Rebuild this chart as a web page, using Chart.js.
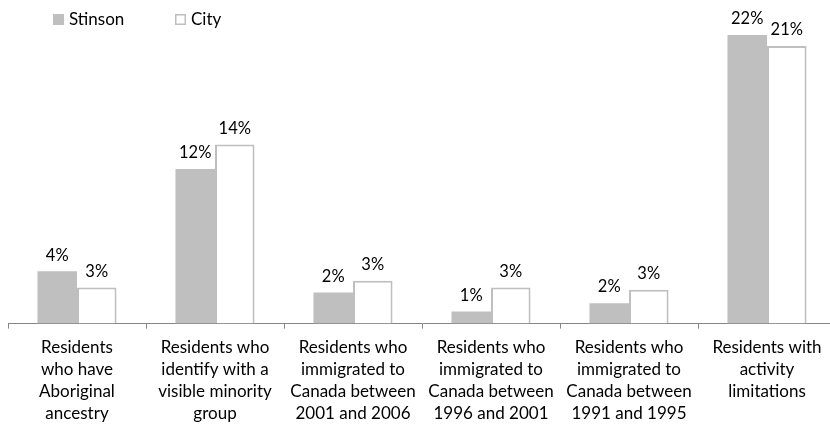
<!DOCTYPE html>
<html>
<head>
<meta charset="utf-8">
<script src="https://cdn.jsdelivr.net/npm/chart.js@4/dist/chart.umd.min.js"></script>
<style>
  html, body { margin: 0; padding: 0; background: #fff; overflow: hidden; }
  #wrap { position: relative; width: 836px; height: 428px; }
</style>
</head>
<body>
<div id="wrap"><canvas id="chart"></canvas></div>
<script>
// categories (multi-line, as in the source)
const categories = [
    ['Residents', 'who have', 'Aboriginal', 'ancestry'],
    ['Residents who', 'identify with a', 'visible minority', 'group'],
    ['Residents who', 'immigrated to', 'Canada between', '2001 and 2006'],
    ['Residents who', 'immigrated to', 'Canada between', '1996 and 2001'],
    ['Residents who', 'immigrated to', 'Canada between', '1991 and 1995'],
    ['Residents with', 'activity', 'limitations']
];
const seriesNames = ['Stinson', 'City'];
const stinson = [3.99, 11.78, 2.38, 0.92, 1.56, 22.0];
const city = [2.76, 13.65, 3.27, 2.76, 2.58, 21.16];

const FONT = 'Lato, "Noto Sans", sans-serif';
Chart.defaults.color = '#000';
Chart.defaults.font.family = FONT;

// value labels above each bar
const valueLabels = {
    id: 'valueLabels',
    afterDatasetsDraw(chart) {
        const ctx = chart.ctx;
        ctx.save();
        ctx.font = '16.5px ' + FONT;
        ctx.fillStyle = '#000';
        ctx.textAlign = 'center';
        ctx.textBaseline = 'middle';
        chart.data.datasets.forEach((ds, i) => {
            chart.getDatasetMeta(i).data.forEach((bar, j) => {
                ctx.fillText(Math.round(ds.data[j]) + '%', bar.x, bar.y - 16);
            });
        });
        ctx.restore();
    }
};

// legend in the top-left corner, like the source
const cornerLegend = {
    id: 'cornerLegend',
    afterDraw(chart) {
        const ctx = chart.ctx;
        const spots = [{ x: 53 }, { x: 175 }];
        ctx.save();
        ctx.font = '17px ' + FONT;
        ctx.textBaseline = 'middle';
        chart.data.datasets.forEach((ds, i) => {
            const x = spots[i].x, y = 14;
            ctx.fillStyle = ds.backgroundColor;
            ctx.fillRect(x, y, 11, 11);
            if (ds.borderWidth) {
                ctx.strokeStyle = ds.borderColor;
                ctx.lineWidth = 1.5;
                ctx.strokeRect(x + 0.75, y + 0.75, 9.5, 9.5);
            }
            ctx.fillStyle = '#000';
            ctx.fillText(ds.label, x + 16, y + 6);
        });
        ctx.restore();
    }
};

new Chart(document.getElementById('chart'), {
    type: 'bar',
    data: {
        labels: categories,
        datasets: [
            { label: seriesNames[0], data: stinson, backgroundColor: '#bfbfbf', borderWidth: 0 },
            { label: seriesNames[1], data: city, backgroundColor: '#ffffff', borderColor: '#bfbfbf', borderWidth: 2 }
        ]
    },
    options: {
        responsive: true,
        maintainAspectRatio: false,
        animation: false,
        layout: { padding: { top: 35, left: 8, right: 0, bottom: -5 } },
        datasets: { bar: { categoryPercentage: 0.573, barPercentage: 1.0 } },
        scales: {
            x: {
                grid: { display: true, offset: true, drawOnChartArea: false, color: '#868686', tickLength: 5 },
                border: { color: '#868686', width: 1 },
                ticks: { font: { size: 17, family: FONT, lineHeight: 1.3 }, color: '#000', padding: 8, maxRotation: 0, autoSkip: false }
            },
            y: { display: false, min: 0, max: 22.0 }
        },
        plugins: { legend: { display: false }, tooltip: { enabled: false } }
    },
    plugins: [valueLabels, cornerLegend]
});
</script>
</body>
</html>
